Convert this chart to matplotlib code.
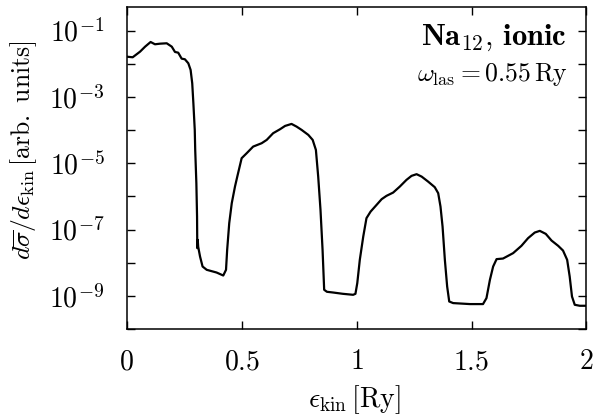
import matplotlib
matplotlib.use("Agg")
import matplotlib.pyplot as plt
import numpy as np

# photoelectron spectrum (x in Ry, y as log10 of yield)
ekin = [0.000, 0.026, 0.058, 0.080, 0.104, 0.123, 0.145, 0.174, 0.196, 0.210,
        0.224, 0.239, 0.253, 0.268, 0.278, 0.285, 0.290, 0.296, 0.298, 0.303,
        0.306, 0.307, 0.309, 0.311, 0.319, 0.330, 0.348, 0.391, 0.420, 0.432,
        0.437, 0.446, 0.457, 0.471, 0.481, 0.500, 0.522, 0.550, 0.587, 0.609,
        0.637, 0.667, 0.689, 0.717, 0.739, 0.761, 0.790, 0.809, 0.823, 0.833,
        0.843, 0.852, 0.859, 0.871, 0.898, 0.940, 0.985, 0.995, 1.003, 1.014,
        1.029, 1.043, 1.061, 1.087, 1.109, 1.130, 1.159, 1.188, 1.217, 1.239,
        1.261, 1.283, 1.311, 1.340, 1.355, 1.365, 1.374, 1.384, 1.394, 1.403,
        1.420, 1.493, 1.550, 1.565, 1.580, 1.594, 1.609, 1.637, 1.681, 1.717,
        1.746, 1.775, 1.797, 1.823, 1.848, 1.877, 1.898, 1.916, 1.927, 1.937,
        1.949, 1.971, 2.000]
log_yield = [-1.784, -1.802, -1.633, -1.482, -1.341, -1.410, -1.392, -1.380, -1.482, -1.642,
             -1.663, -1.844, -1.862, -1.983, -2.185, -2.586, -3.189, -3.994, -4.597, -5.601,
             -6.608, -7.560, -7.310, -7.521, -7.813, -8.115, -8.214, -8.296, -8.386, -8.214,
             -7.611, -6.807, -6.204, -5.703, -5.402, -4.847, -4.696, -4.497, -4.395, -4.295,
             -4.093, -3.973, -3.873, -3.813, -3.894, -3.994, -4.144, -4.295, -4.597, -5.402,
             -6.406, -7.611, -8.817, -8.877, -8.899, -8.938, -8.968, -8.938, -8.615, -7.913,
             -7.210, -6.656, -6.457, -6.255, -6.083, -5.983, -5.884, -5.703, -5.501, -5.380,
             -5.329, -5.402, -5.552, -5.721, -5.902, -6.306, -6.909, -7.913, -8.718, -9.170,
             -9.218, -9.248, -9.248, -9.068, -8.516, -8.115, -7.892, -7.874, -7.711, -7.491,
             -7.259, -7.090, -7.039, -7.130, -7.331, -7.491, -7.633, -7.913, -8.416, -9.019,
             -9.269, -9.299, -9.299]

xticks = [0, 0.5, 1, 1.5, 2]
xticklabels = ["$0$", "$0.5$", "$1$", "$1.5$", "$2$"]
ydecades = list(range(-10, 0))

plt.rcParams["mathtext.fontset"] = "cm"
plt.rcParams["font.family"] = "serif"
plt.rcParams["font.serif"] = ["DejaVu Serif"]

fig = plt.figure(figsize=(5.96, 4.18), dpi=100)
ax = fig.add_axes([0.2126, 0.2129, 0.7714, 0.7696])

y = 10.0 ** np.array(log_yield)
ax.plot(ekin, y, color="black", lw=1.6)

ax.set_yscale("log")
ax.set_xlim(0, 2)
ax.set_ylim(1e-10, 10 ** -0.295)

ax.set_xticks(xticks)
ax.set_xticklabels(xticklabels)
ax.set_yticks([10.0 ** d for d in ydecades])
ax.set_yticklabels(["$10^{%d}$" % d if d % 2 else "" for d in ydecades])
ax.yaxis.set_minor_locator(matplotlib.ticker.NullLocator())

ax.tick_params(which="both", direction="in", top=True, right=True,
               length=6, width=1, labelsize=20)
ax.tick_params(axis="x", pad=14)
ax.tick_params(axis="y", pad=16)
for s in ax.spines.values():
    s.set_linewidth(1.1)

ax.set_xlabel(r"$\epsilon_{\rm kin}\,[{\rm Ry}]$", fontsize=20)
ax.xaxis.set_label_coords(0.494, -0.168)
ax.set_ylabel(r"$d\overline{\sigma}/d\epsilon_{\rm kin}\,[{\rm arb.\ units}]$",
              fontsize=18.5)
ax.yaxis.set_label_coords(-0.19, 0.555)

ax.text(0.9576, 0.883, r"$\mathbf{Na}_{\mathbf{12}}\mathbf{,\,ionic}$",
        transform=ax.transAxes, ha="right", va="baseline", fontsize=22)
ax.text(0.96, 0.771, r"$\omega_{\rm las}=0.55\,{\rm Ry}$", transform=ax.transAxes,
        ha="right", va="baseline", fontsize=18.5)

fig.savefig("out.png", dpi=100)
